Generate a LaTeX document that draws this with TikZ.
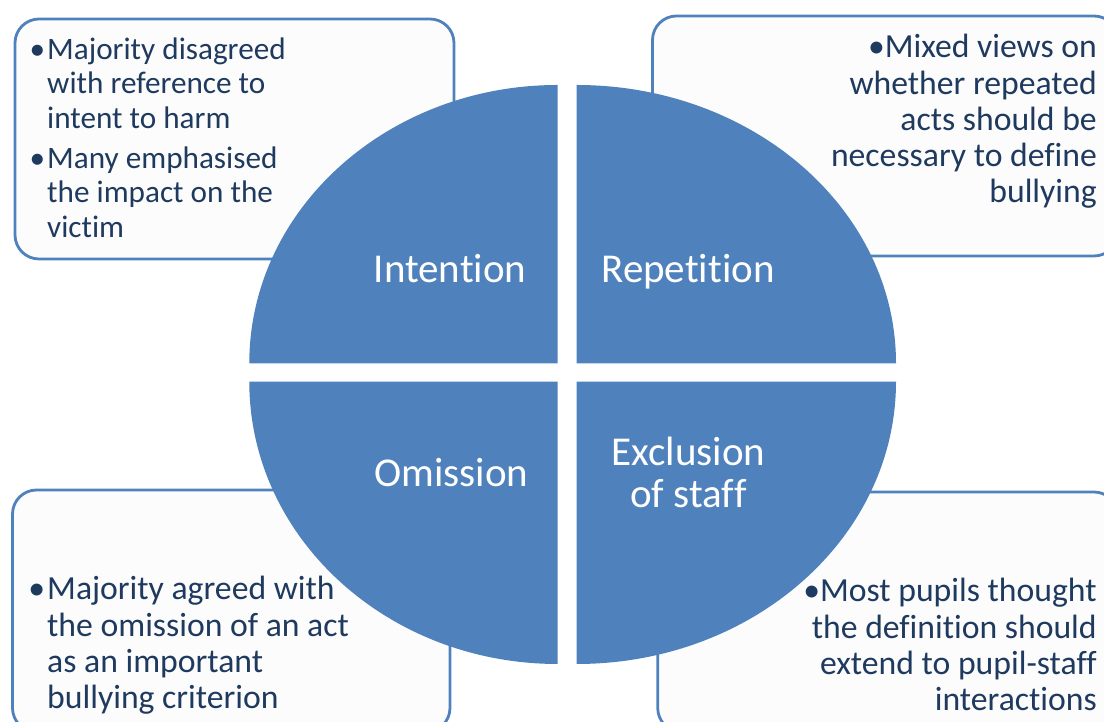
\documentclass[tikz,border=0pt]{standalone}
\usepackage{fontspec}
\setmainfont{Carlito}[Ligatures=NoCommon]

\definecolor{quadblue}{HTML}{4F81BD}
\definecolor{notenavy}{HTML}{1F3A5F}
% bullet hanging left of the text column
\newcommand{\blt}{\makebox[0pt][r]{\textbullet\hspace{2pt}}}

\begin{document}
\begin{tikzpicture}[x=1pt,y=1pt,
    quadrant/.style={fill=quadblue},
    notebox/.style={draw=quadblue,line width=2.8pt,fill=black!1,rounded corners=24pt},
    quadlabel/.style={text=white,inner sep=0pt,align=center,font=\fontsize{41}{42}\selectfont},
    notetext/.style={text=notenavy,inner sep=0pt,font=\fontsize{33.7}{36.2}\selectfont}]
    \useasboundingbox (0,0) rectangle (1104,722);
    % boxes behind the circle
    \draw[notebox] (15,703) rectangle (454,463);
    \draw[notebox] (652.5,706) rectangle (1118,466);
    \draw[notebox] (12.5,232) rectangle (450,-10);
    \draw[notebox] (657.7,230) rectangle (1118,-10);
    % four quarters
    \fill[quadrant] (557.7,358.7) -- ++(-308.4,0) arc[start angle=180,end angle=90,x radius=308.4pt,y radius=278.3pt] -- cycle;
    \fill[quadrant] (576.7,358.7) -- ++(0,278.3) arc[start angle=90,end angle=0,x radius=319.3pt,y radius=278.3pt] -- cycle;
    \fill[quadrant] (557.7,340.3) -- ++(-308.4,0) arc[start angle=180,end angle=270,x radius=308.4pt,y radius=282.3pt] -- cycle;
    \fill[quadrant] (576.7,340.3) -- ++(0,-282.3) arc[start angle=270,end angle=360,x radius=319.3pt,y radius=282.3pt] -- cycle;
    \node[quadlabel,anchor=base] (intention) at (450,439) {Intention};
    \node[quadlabel,anchor=base] (repetition) at (688,439) {Repetition};
    \node[quadlabel,anchor=base] (omission) at (451.5,235) {Omission};
    \node[quadlabel,anchor=base] (exclusion) at (688.5,214) {Exclusion\\of staff};
    % notes (base = last line)
    \node[notetext,font=\fontsize{31.2}{34.5}\selectfont,align=left,anchor=base west] (intentnote) at (47,484.7)
        {\blt Majority disagreed\\with reference to\\intent to harm\\[5.5pt]\blt Many emphasised\\the impact on the\\victim};
    \node[notetext,align=right,anchor=base east] (repnote) at (1097,519.3)
        {\textbullet Mixed views on\\whether repeated\\acts should be\\necessary to define\\bullying};
    \node[notetext,align=left,anchor=base west] (omitnote) at (47,13.4)
        {\blt Majority agreed with\\the omission of an act\\as an important\\bullying criterion};
    \node[notetext,align=right,anchor=base east] (staffnote) at (1097,11.4)
        {\textbullet Most pupils thought\\the definition should\\extend to pupil-staff\\interactions};
\end{tikzpicture}
\end{document}
